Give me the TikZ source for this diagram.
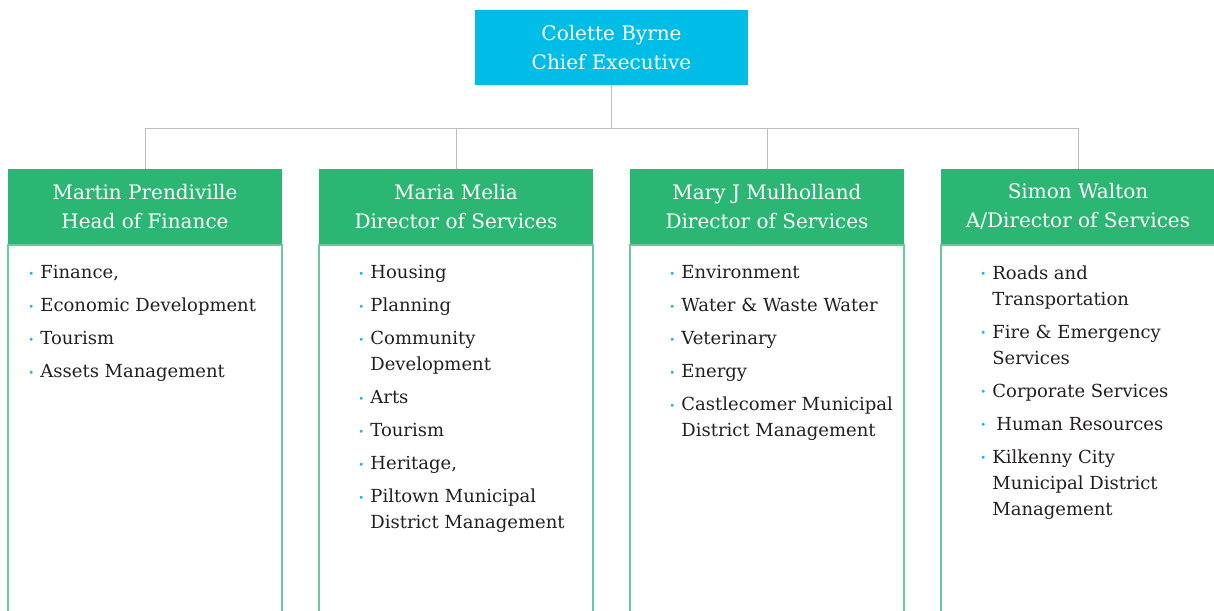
\documentclass[tikz,border=0pt]{standalone}
\usepackage{fontspec}
\setmainfont{DejaVu Serif}
\usetikzlibrary{positioning}
\definecolor{ceoblue}{HTML}{00BDE8}
\definecolor{headgreen}{HTML}{2BB673}
\definecolor{rimgreen}{HTML}{66CC9C}
\definecolor{linegray}{HTML}{BDBDBD}
\definecolor{dotblue}{HTML}{1DB4E2}
\definecolor{inkgray}{HTML}{231F20}
\newcommand{\bul}{\makebox[12pt][l]{\raisebox{1.5pt}{\textcolor{dotblue}{\fontsize{10}{10}\selectfont •}}}}
\newcommand{\ind}{\hspace*{12pt}}
\begin{document}
\begin{tikzpicture}[x=1pt,y=1pt,
    level distance=159pt,
  level 1/.style={sibling distance=311pt},
  every node/.style={text=white, align=center, minimum width=274pt, minimum height=75pt, inner sep=0pt, font=\fontsize{20}{29}\selectfont},
  ceo/.style={fill=ceoblue, minimum width=273pt},
  head/.style={fill=headgreen},
  body/.style={draw=rimgreen, line width=1.6pt, minimum height=380pt},
  list/.style={text=inkgray, align=left, minimum width=0pt, minimum height=0pt, font=\fontsize{18}{26}\selectfont},
  edge from parent/.style={draw=linegray, line width=1pt},
  edge from parent path={(\tikzparentnode.south) -- ++(0,-43) -| (\tikzchildnode.north)}
  ]
\useasboundingbox (0,0) rectangle (1214,-610);

\node[ceo] (ceo) at (611.5,-47.5) {Colette Byrne\\Chief Executive}
child {node[head] (fin) {Martin Prendiville\\Head of Finance}}
child {node[head] (hous) {Maria Melia\\Director of Services}}
child {node[head] (env) {Mary J Mulholland\\Director of Services}}
child {node[head] (road) {Simon Walton\\A/Director of Services}}
;

\node[body, below=0pt of fin] (finbody) {};
\node[body, below=0pt of hous] (housbody) {};
\node[body, below=0pt of env] (envbody) {};
\node[body, below=0pt of road] (roadbody) {};

\node[list, below right=21pt and 21pt of finbody.north west] (finlist)
{\bul Finance,\\[7pt] \bul Economic Development\\[7pt] \bul Tourism\\[7pt] \bul Assets Management};
\node[list, below right=21pt and 40pt of housbody.north west] (houslist)
{\bul Housing\\[7pt] \bul Planning\\[7pt] \bul Community\\ \ind Development\\[7pt] \bul Arts\\[7pt] \bul Tourism\\[7pt] \bul Heritage,\\[7pt] \bul Piltown Municipal\\ \ind District Management};
\node[list, below right=21pt and 40pt of envbody.north west] (envlist)
{\bul Environment\\[7pt] \bul Water \& Waste Water\\[7pt] \bul Veterinary\\[7pt] \bul Energy\\[7pt] \bul Castlecomer Municipal\\ \ind District Management};
\node[list, below right=21pt and 40pt of roadbody.north west] (roadlist)
{\bul Roads and\\ \ind Transportation\\[7pt] \bul Fire \& Emergency\\ \ind Services\\[7pt] \bul Corporate Services\\[7pt] \bul\hspace{4pt}Human Resources\\[7pt] \bul Kilkenny City\\ \ind Municipal District\\ \ind Management};
\end{tikzpicture}
\end{document}
